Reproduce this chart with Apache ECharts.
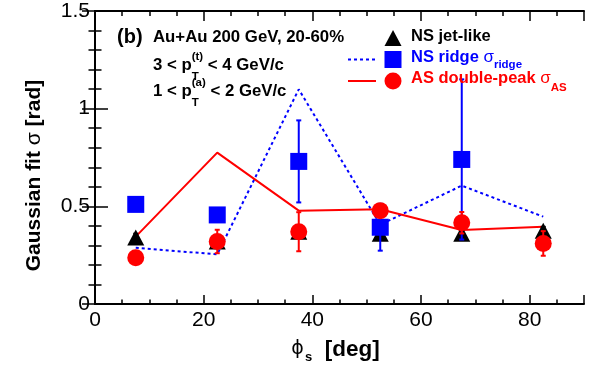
<!DOCTYPE html>
<html><head><meta charset="utf-8">
<script src="https://cdn.jsdelivr.net/npm/echarts@6/dist/echarts.min.js"></script>
<style>html,body{margin:0;padding:0;background:#fff}#c{width:596px;height:372px}</style>
</head><body><div id="c"></div>
<script>
// ---- data ----
const phiS = [7.5, 22.5, 37.5, 52.5, 67.5, 82.5];
const nsJet = [0.34, 0.32, 0.37, 0.36, 0.36, 0.375];
const nsJetErr = [0.02, 0.02, 0.02, 0.02, 0.02, 0.02];
const nsRidge = [0.51, 0.456, 0.73, 0.393, 0.74, null];
const nsRidgeErr = [0.02, 0.02, 0.21, 0.12, 0.41, null];
const asPeak = [0.237, 0.32, 0.37, 0.478, 0.416, 0.31];
const asPeakErr = [0.02, 0.06, 0.10, 0.03, 0.055, 0.063];
const ridgeCurve = [0.288, 0.254, 1.099, 0.406, 0.606, 0.447];
const asCurve = [0.345, 0.775, 0.478, 0.485, 0.379, 0.396];
const xTicks = [0, 20, 40, 60, 80];
const yTicks = [0, 0.5, 1, 1.5];

const FONT = '"Liberation Sans", Arial, sans-serif';
const GREEK = '"DejaVu Sans", "Liberation Sans", sans-serif';
const BLUE = '#0000ff', RED = '#ff0000', BLACK = '#000000';

function pts(vals) { return phiS.map((x, i) => vals[i] == null ? null : [x, vals[i]]).filter(Boolean); }
function errData(vals, errs) {
  return phiS.map((x, i) => vals[i] == null ? null : [x, vals[i] - errs[i], vals[i] + errs[i]]).filter(Boolean);
}
function errSeries(name, vals, errs, color, z) {
  return {
    type: 'custom', name: name, z: z, silent: true,
    data: errData(vals, errs),
    encode: { x: 0, y: [1, 2] },
    renderItem: function (params, api) {
      const x = api.value(0);
      const lo = api.coord([x, api.value(1)]);
      const hi = api.coord([x, api.value(2)]);
      const c = 2.5;
      const st = { stroke: color, lineWidth: 2 };
      return { type: 'group', children: [
        { type: 'line', shape: { x1: lo[0], y1: lo[1], x2: hi[0], y2: hi[1] }, style: st },
        { type: 'line', shape: { x1: lo[0] - c, y1: lo[1], x2: lo[0] + c, y2: lo[1] }, style: st },
        { type: 'line', shape: { x1: hi[0] - c, y1: hi[1], x2: hi[0] + c, y2: hi[1] }, style: st }
      ]};
    }
  };
}

// text layout helper for annotations
const mctx = document.createElement('canvas').getContext('2d');
function tw(t, size, bold) { mctx.font = (bold ? 'bold ' : '') + size + 'px ' + FONT; return mctx.measureText(t).width; }
function textRun(x0, yMid, parts, color) {
  const out = []; let x = x0;
  parts.forEach(p => {
    if (p.stack) {
      let mw = 0;
      p.stack.forEach(s => {
        out.push({ type: 'text', x: x, y: yMid + (s.dy || 0), z: 100,
          style: { text: s.t, fontSize: s.f, fontWeight: s.b === false ? 'normal' : 'bold', fontFamily: FONT,
            fill: s.c || color, verticalAlign: 'middle', align: 'left' } });
        mw = Math.max(mw, tw(s.t, s.f, s.b !== false));
      });
      x += mw;
    } else {
      out.push({ type: 'text', x: x, y: yMid + (p.dy || 0), z: 100,
        style: { text: p.t, fontSize: p.f, fontWeight: p.b === false ? 'normal' : 'bold', fontFamily: FONT,
          fill: p.c || color, verticalAlign: 'middle', align: 'left' } });
      x += tw(p.t, p.f, p.b !== false);
    }
  });
  return out;
}

const graphics = [].concat(
  textRun(117, 37, [{ t: '(b)', f: 20 }], BLACK),
  textRun(153, 37, [{ t: 'Au+Au 200 GeV, 20-60%', f: 16.8 }], BLACK),
  textRun(153, 65, [{ t: '3 < p', f: 16.8 }, { stack: [{ t: '(t)', f: 11.5, dy: -8 }, { t: 'T', f: 11.5, dy: 12 }] }, { t: ' < 4 GeV/c', f: 16.8 }], BLACK),
  textRun(153, 91, [{ t: '1 < p', f: 16.8 }, { stack: [{ t: '(a)', f: 11.5, dy: -8 }, { t: 'T', f: 11.5, dy: 12 }] }, { t: ' < 2 GeV/c', f: 16.8 }], BLACK),
  textRun(411, 36, [{ t: 'NS jet-like', f: 16.5 }], BLACK),
  textRun(411, 57, [{ t: 'NS ridge ', f: 16.5 }, { t: 'σ', f: 17, b: false }, { t: 'ridge', f: 11.5, dy: 8 }], BLUE),
  textRun(411, 78.5, [{ t: 'AS double-peak ', f: 16.5 }, { t: 'σ', f: 17, b: false }, { t: 'AS', f: 11.5, dy: 9 }], RED),
  [
    { type: 'polygon', z: 100, shape: { points: [[393, 30], [401.5, 46], [384.5, 46]] }, style: { fill: BLACK } },
    { type: 'line', z: 100, shape: { x1: 348, y1: 59.5, x2: 376, y2: 59.5 }, style: { stroke: BLUE, lineWidth: 2, lineDash: [3, 3] } },
    { type: 'rect', z: 100, shape: { x: 384.5, y: 51, width: 17, height: 17 }, style: { fill: BLUE } },
    { type: 'line', z: 100, shape: { x1: 348, y1: 81, x2: 376, y2: 81 }, style: { stroke: RED, lineWidth: 2 } },
    { type: 'circle', z: 100, shape: { cx: 393, cy: 81, r: 8.5 }, style: { fill: RED } }
  ]
);

const axisLineStyle = { show: true, lineStyle: { color: BLACK, width: 2 } };
const chart = echarts.init(document.getElementById('c'));
chart.setOption({
  animation: false,
  backgroundColor: '#ffffff',
  grid: { left: 95, right: 12, top: 11, bottom: 68, containLabel: false },
  xAxis: [
    { type: 'value', position: 'bottom', min: 0, max: 90, interval: 20,
      axisLine: axisLineStyle, splitLine: { show: false },
      axisTick: { show: true, inside: true, length: 9, lineStyle: { color: BLACK, width: 1.5 } },
      axisLabel: { show: true, margin: 6, fontSize: 21, fontFamily: FONT, color: BLACK,
        formatter: v => xTicks.indexOf(v) >= 0 ? String(v) : '' },
      name: '{phi|ϕ}{sub|s}{b|  [deg]}', nameLocation: 'middle', nameGap: 31.5,
      nameTextStyle: { padding: [0, 8, 0, 0], rich: {
        phi: { fontSize: 19, fontFamily: GREEK, color: BLACK },
        sub: { fontSize: 13, fontWeight: 'bold', fontFamily: FONT, color: BLACK, padding: [15, 0, 0, 1] },
        b: { fontSize: 22.5, fontWeight: 'bold', fontFamily: FONT, color: BLACK } } } },
    { type: 'value', position: 'bottom', min: 0, max: 90, interval: 5,
      axisLine: { show: false }, splitLine: { show: false }, axisLabel: { show: false },
      axisTick: { show: true, inside: true, length: 4.5, lineStyle: { color: BLACK, width: 1.5 } } },
    { type: 'value', position: 'top', min: 0, max: 90, interval: 20,
      axisLine: axisLineStyle, splitLine: { show: false }, axisLabel: { show: false },
      axisTick: { show: true, inside: true, length: 10, lineStyle: { color: BLACK, width: 1.5 } } },
    { type: 'value', position: 'top', min: 0, max: 90, interval: 5,
      axisLine: { show: false }, splitLine: { show: false }, axisLabel: { show: false },
      axisTick: { show: true, inside: true, length: 5, lineStyle: { color: BLACK, width: 1.5 } } }
  ],
  yAxis: [
    { type: 'value', position: 'left', min: 0, max: 1.5, interval: 0.5,
      axisLine: axisLineStyle, splitLine: { show: false },
      axisTick: { show: true, inside: true, length: 13, lineStyle: { color: BLACK, width: 1.5 } },
      minorTick: { show: true, splitNumber: 5, length: 6.5, lineStyle: { color: BLACK, width: 1.5 } },
      axisLabel: { show: true, margin: 5, fontSize: 21, fontFamily: FONT, color: BLACK,
        formatter: v => yTicks.indexOf(v) >= 0 ? String(v) : '' },
      name: '{b|Gaussian fit }{s|σ}{b| [rad]}', nameLocation: 'middle', nameGap: 50, nameRotate: 90,
      nameTextStyle: { padding: [0, 36, 0, 0], rich: {
        b: { fontSize: 21, fontWeight: 'bold', fontFamily: FONT, color: BLACK },
        s: { fontSize: 21, fontFamily: FONT, color: BLACK } } } },
    { type: 'value', position: 'right', min: 0, max: 1.5, interval: 0.5,
      axisLine: axisLineStyle, splitLine: { show: false }, axisLabel: { show: false },
      axisTick: { show: true, inside: true, length: 13, lineStyle: { color: BLACK, width: 1.5 } },
      minorTick: { show: true, splitNumber: 5, length: 6.5, lineStyle: { color: BLACK, width: 1.5 } } }
  ],
  series: [
    { type: 'line', name: 'ridge curve', z: 2, data: pts(ridgeCurve), symbol: 'none', silent: true,
      lineStyle: { color: BLUE, width: 2, type: [3, 3] } },
    { type: 'line', name: 'AS curve', z: 2, data: pts(asCurve), symbol: 'none', silent: true,
      lineStyle: { color: RED, width: 2, type: 'solid' } },
    errSeries('NS jet-like err', nsJet, nsJetErr, BLACK, 3),
    { type: 'scatter', name: 'NS jet-like', z: 3, data: pts(nsJet), symbol: 'triangle', symbolSize: [17, 16],
      itemStyle: { color: BLACK, opacity: 1 } },
    errSeries('NS ridge err', nsRidge, nsRidgeErr, BLUE, 4),
    { type: 'scatter', name: 'NS ridge', z: 4, data: pts(nsRidge), symbol: 'rect', symbolSize: 17,
      itemStyle: { color: BLUE, opacity: 1 } },
    errSeries('AS double-peak err', asPeak, asPeakErr, RED, 5),
    { type: 'scatter', name: 'AS double-peak', z: 5, data: pts(asPeak), symbol: 'circle', symbolSize: 17,
      itemStyle: { color: RED, opacity: 1 } }
  ],
  graphic: graphics
});
</script>
</body></html>
